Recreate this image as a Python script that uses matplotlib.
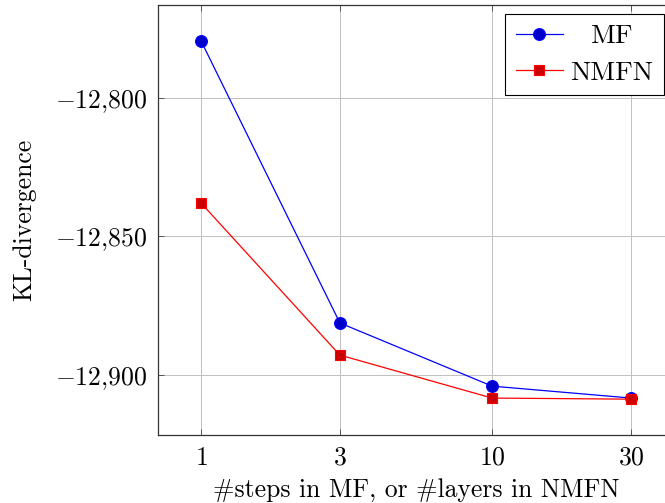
import matplotlib
matplotlib.use("Agg")
import matplotlib.pyplot as plt
import matplotlib.ticker as mticker
from matplotlib.transforms import Affine2D
import numpy as np

# data
steps = [1, 3, 10, 30]
mf_kl = [-12779.4, -12881.2, -12904.0, -12908.3]
nmfn_kl = [-12837.9, -12892.8, -12908.3, -12908.7]
y_ticks = [-12800, -12850, -12900]

plt.rcParams["font.family"] = ["cmr10", "DejaVu Serif"]
plt.rcParams["mathtext.fontset"] = "cm"
plt.rcParams["axes.unicode_minus"] = False

FS = 18.5

fig = plt.figure(figsize=(6.65, 5.03), dpi=100)
# axis runs a bit past the right edge, as in the cropped original
ax = fig.add_axes([158 / 665, 68 / 503, 516 / 665, 430 / 503])

ax.plot(steps, mf_kl, color="blue", lw=0.9, marker="o", markersize=8.5,
        markerfacecolor="#0000cc", markeredgecolor="blue", markeredgewidth=0.8,
        label="MF", zorder=3)
ax.plot(steps, nmfn_kl, color="red", lw=0.9, marker="s", markersize=7.5,
        markerfacecolor="#cc0000", markeredgecolor="red", markeredgewidth=0.8,
        label="NMFN", zorder=3)

ax.set_xscale("log")
# pgfplots style: enlarge limits by 10 % of the data range
lx = np.log10([min(steps), max(steps)])
dx = 0.1 * (lx[1] - lx[0])
ax.set_xlim(10 ** (lx[0] - dx), 10 ** (lx[1] + dx))
allv = mf_kl + nmfn_kl
dy = 0.1 * (max(allv) - min(allv))
ax.set_ylim(min(allv) - dy, max(allv) + dy)

ax.xaxis.set_major_locator(mticker.FixedLocator(steps))
ax.xaxis.set_minor_locator(mticker.NullLocator())
ax.xaxis.set_major_formatter(mticker.FixedFormatter([f"${s}$" for s in steps]))
ax.yaxis.set_major_locator(mticker.FixedLocator(y_ticks))
ax.yaxis.set_major_formatter(
    mticker.FuncFormatter(lambda v, p: r"$-%d{,}%03d$" % (abs(v) // 1000, abs(v) % 1000)))

ax.tick_params(axis="both", which="both", direction="in", top=True, right=True,
               length=4, width=0.7, color="#555555", labelsize=FS, pad=8)
ax.grid(True, color="#c0c0c0", lw=0.7)
ax.set_axisbelow(True)
for sp in ax.spines.values():
    sp.set_linewidth(0.9)
    sp.set_color("#333333")

ax.set_xlabel("#steps in MF, or #layers in NMFN", fontsize=FS, labelpad=6)
ax.set_ylabel("KL-divergence", fontsize=FS, labelpad=13)

leg = ax.legend(loc="upper right", bbox_to_anchor=(0.98, 0.98), borderaxespad=0,
                fontsize=19.5, fancybox=False, framealpha=1, edgecolor="black",
                handlelength=1.75, handletextpad=0.25, labelspacing=0.45,
                borderpad=0.4)
leg.get_frame().set_linewidth(0.8)

# centre the legend texts like pgfplots does
fig.canvas.draw()
r = fig.canvas.get_renderer()
texts = leg.get_texts()
widths = [t.get_window_extent(r).width for t in texts]
wmax = max(widths)
for t, w in zip(texts, widths):
    t.set_transform(t.get_transform() + Affine2D().translate((wmax - w) / 2, 0))

fig.savefig("out.png", dpi=100)
